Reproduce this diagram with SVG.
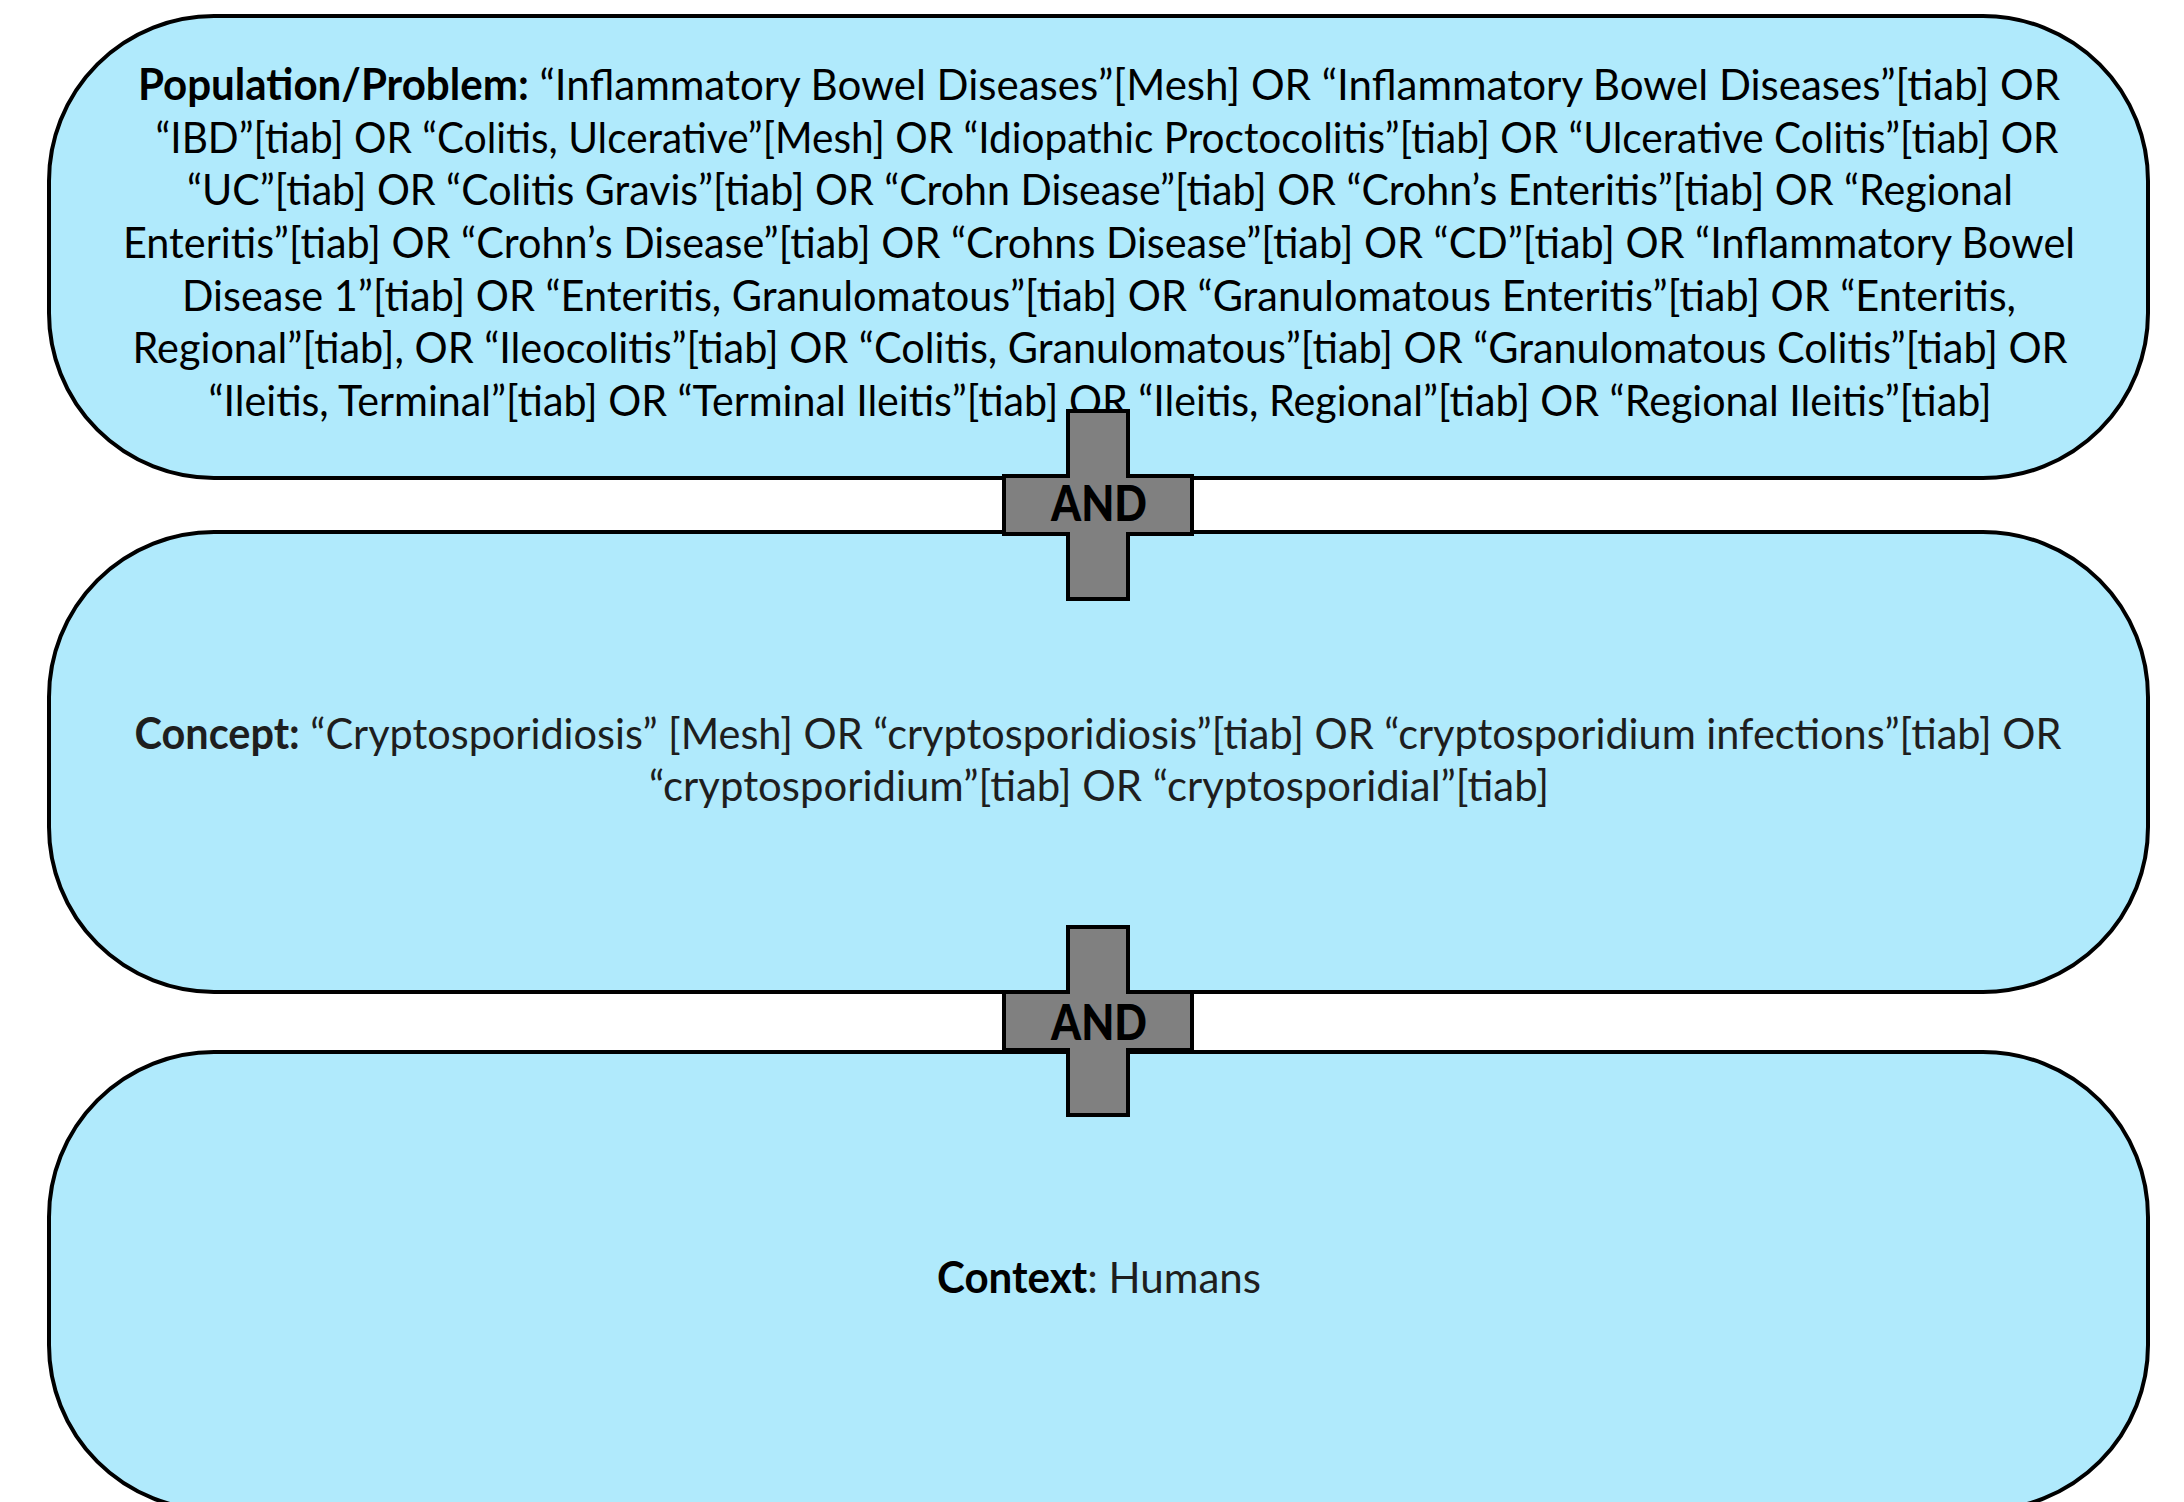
<svg xmlns="http://www.w3.org/2000/svg" width="2184" height="1502" viewBox="0 0 2184 1502">
<style>
.box{fill:#b0eafc;stroke:#000;stroke-width:4}
.t{font-family:Lato,"Open Sans","Liberation Sans",sans-serif;font-size:43px;text-anchor:middle;fill:#000}
.t2{fill:#1e1e1e}
.b{font-weight:bold}
.plus{fill:#808080;stroke:#000;stroke-width:4;stroke-linejoin:miter}
.and{font-family:Lato,"Open Sans","Liberation Sans",sans-serif;font-size:50px;font-weight:900;text-anchor:middle;fill:#000}
</style>
<defs>
<path id="plusShape" d="M-30,-94 H30 V-29 H94 V29 H30 V94 H-30 V29 H-94 V-29 H-30 Z"/>
</defs>
<rect width="2184" height="1502" fill="#fff"/>
<g id="population">
<rect class="box" x="49" y="16" width="2099" height="462" rx="165" ry="165"/>
<text class="t" x="1099" y="100" textLength="1922" lengthAdjust="spacingAndGlyphs"><tspan class="b">Population/Problem:</tspan> “Inflammatory Bowel Diseases”[Mesh] OR “Inflammatory Bowel Diseases”[tiab] OR</text>
<text class="t" x="1107" y="152.5" textLength="1903" lengthAdjust="spacingAndGlyphs">“IBD”[tiab] OR “Colitis, Ulcerative”[Mesh] OR “Idiopathic Proctocolitis”[tiab] OR “Ulcerative Colitis”[tiab] OR</text>
<text class="t" x="1100" y="205" textLength="1826" lengthAdjust="spacingAndGlyphs">“UC”[tiab] OR “Colitis Gravis”[tiab] OR “Crohn Disease”[tiab] OR “Crohn’s Enteritis”[tiab] OR “Regional</text>
<text class="t" x="1099" y="258" textLength="1952" lengthAdjust="spacingAndGlyphs">Enteritis”[tiab] OR “Crohn’s Disease”[tiab] OR “Crohns Disease”[tiab] OR “CD”[tiab] OR “Inflammatory Bowel</text>
<text class="t" x="1099" y="310.5" textLength="1834" lengthAdjust="spacingAndGlyphs">Disease 1”[tiab] OR “Enteritis, Granulomatous”[tiab] OR “Granulomatous Enteritis”[tiab] OR “Enteritis,</text>
<text class="t" x="1100" y="363" textLength="1935" lengthAdjust="spacingAndGlyphs">Regional”[tiab], OR “Ileocolitis”[tiab] OR “Colitis, Granulomatous”[tiab] OR “Granulomatous Colitis”[tiab] OR</text>
<text class="t" x="1100" y="416" textLength="1783" lengthAdjust="spacingAndGlyphs">“Ileitis, Terminal”[tiab] OR “Terminal Ileitis”[tiab] OR “Ileitis, Regional”[tiab] OR “Regional Ileitis”[tiab]</text>
</g>
<g id="concept">
<rect class="box" x="49" y="532" width="2099" height="460" rx="165" ry="165"/>
<text class="t t2" x="1098" y="749" textLength="1927" lengthAdjust="spacingAndGlyphs"><tspan class="b">Concept:</tspan> “Cryptosporidiosis” [Mesh] OR “cryptosporidiosis”[tiab] OR “cryptosporidium infections”[tiab] OR</text>
<text class="t t2" x="1099" y="801" textLength="900" lengthAdjust="spacingAndGlyphs">“cryptosporidium”[tiab] OR “cryptosporidial”[tiab]</text>
</g>
<g id="context">
<rect class="box" x="49" y="1052" width="2099" height="458" rx="165" ry="165"/>
<text class="t t2" x="1099" y="1293" textLength="324" lengthAdjust="spacingAndGlyphs"><tspan class="b" fill="#000">Context</tspan>: Humans</text>
</g>
<g id="connectors">
<g id="and1" transform="translate(1098,505)">
<use href="#plusShape" class="plus"/>
<text class="and" x="1" y="16" textLength="96" lengthAdjust="spacingAndGlyphs">AND</text>
</g>
<g id="and2" transform="translate(1098,1021)">
<use href="#plusShape" class="plus"/>
<text class="and" x="1" y="19" textLength="96" lengthAdjust="spacingAndGlyphs">AND</text>
</g>
</g>
</svg>
